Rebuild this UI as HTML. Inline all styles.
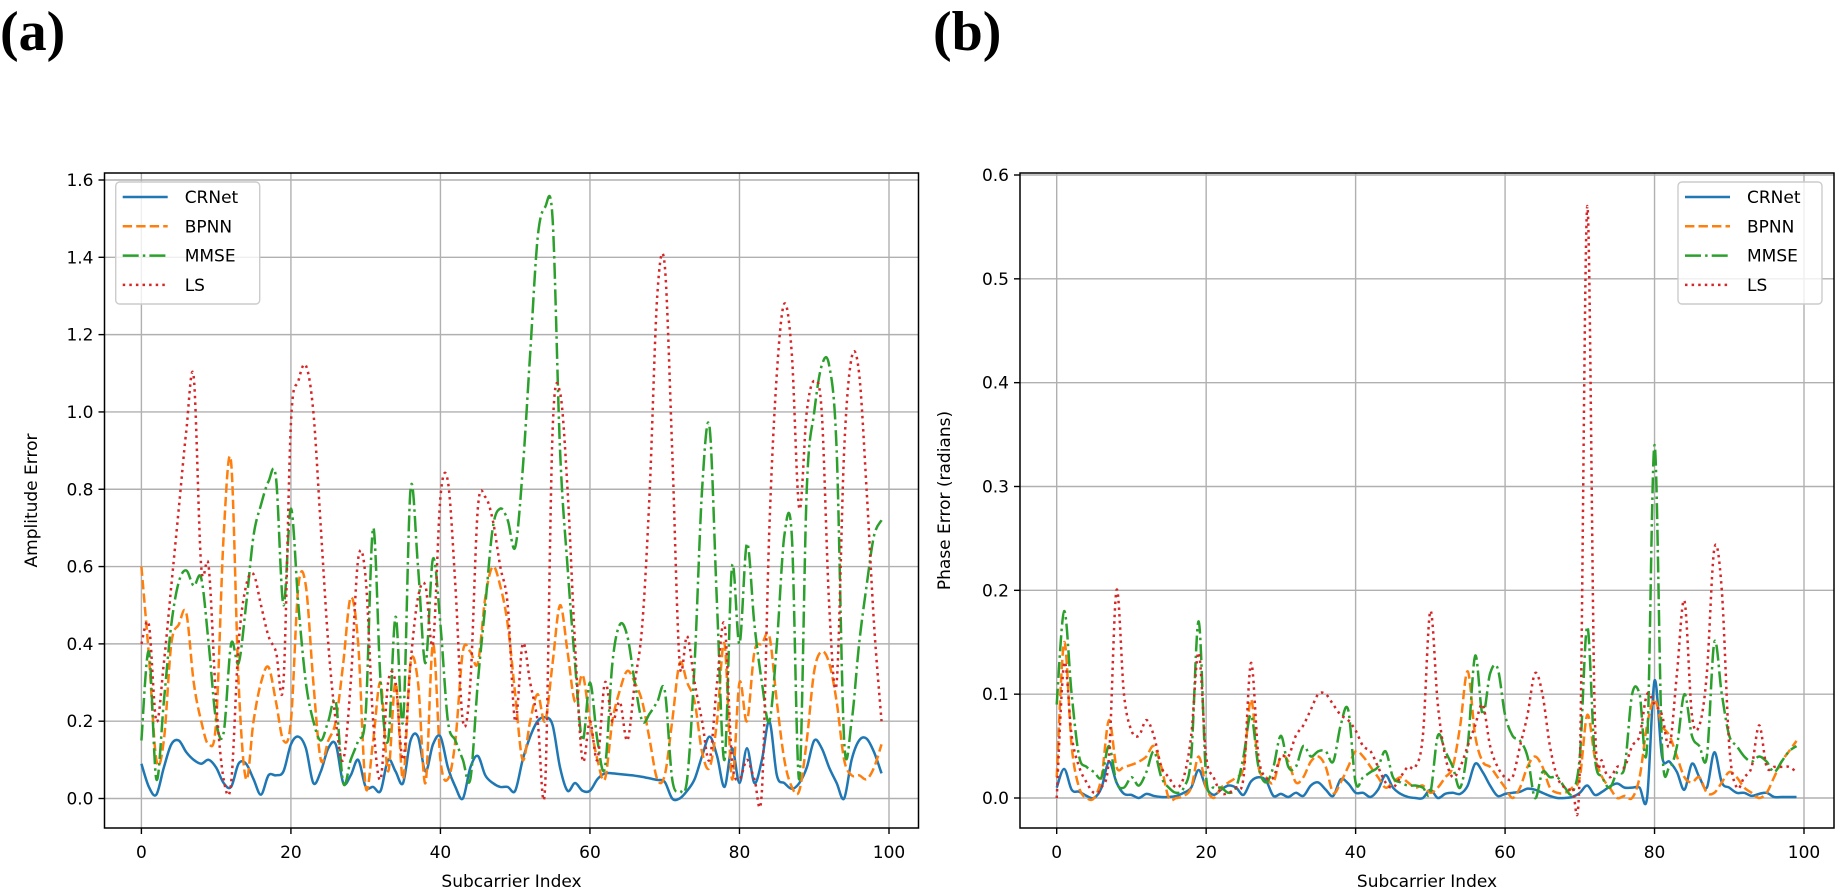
<!DOCTYPE html>
<html><head><meta charset="utf-8"><style>
html,body{margin:0;padding:0;background:#fff;}
svg{display:block;font-family:"DejaVu Sans","Liberation Sans",sans-serif;}
</style></head><body>
<svg id="fig" width="1840" height="893" viewBox="0 0 1840 893" xmlns="http://www.w3.org/2000/svg">
<text x="0" y="50" font-family="Liberation Serif, serif" font-weight="bold" font-size="56">(a)</text>
<text x="933" y="50" font-family="Liberation Serif, serif" font-weight="bold" font-size="56">(b)</text>
</svg>
<script>
const xTicks=[0,20,40,60,80,100];
const ampTicks=[0.0,0.2,0.4,0.6,0.8,1.0,1.2,1.4,1.6];
const phaseTicks=[0.0,0.1,0.2,0.3,0.4,0.5,0.6];
const seriesNames=["CRNet","BPNN","MMSE","LS"];
const ampCRNet=[0.09,0.03,0.01,0.08,0.14,0.15,0.12,0.10,0.09,0.10,0.08,0.04,0.03,0.09,0.09,0.05,0.01,0.06,0.06,0.07,0.14,0.16,0.13,0.04,0.07,0.13,0.14,0.04,0.06,0.10,0.03,0.03,0.02,0.10,0.07,0.04,0.15,0.16,0.07,0.14,0.16,0.08,0.03,0.00,0.08,0.11,0.06,0.04,0.03,0.03,0.02,0.10,0.16,0.20,0.21,0.19,0.08,0.02,0.04,0.02,0.02,0.05,0.065,0.065,0.063,0.061,0.059,0.056,0.052,0.048,0.043,0.00,0.00,0.02,0.05,0.11,0.16,0.11,0.03,0.13,0.04,0.13,0.04,0.10,0.20,0.06,0.04,0.025,0.04,0.08,0.15,0.13,0.08,0.04,0.00,0.10,0.15,0.155,0.12,0.065];
const ampBPNN=[0.6,0.37,0.1,0.15,0.40,0.45,0.48,0.3,0.2,0.14,0.2,0.68,0.87,0.3,0.05,0.2,0.3,0.34,0.25,0.15,0.2,0.55,0.55,0.3,0.1,0.15,0.2,0.35,0.52,0.4,0.03,0.15,0.3,0.07,0.3,0.05,0.35,0.3,0.04,0.4,0.1,0.05,0.15,0.38,0.38,0.35,0.52,0.6,0.55,0.45,0.27,0.1,0.2,0.27,0.2,0.35,0.5,0.38,0.25,0.32,0.2,0.1,0.05,0.2,0.28,0.33,0.3,0.25,0.15,0.05,0.06,0.2,0.35,0.3,0.25,0.12,0.08,0.2,0.4,0.05,0.3,0.2,0.38,0.4,0.42,0.25,0.1,0.03,0.02,0.15,0.33,0.38,0.35,0.25,0.1,0.06,0.06,0.05,0.08,0.14];
const ampMMSE=[0.15,0.38,0.05,0.25,0.45,0.56,0.59,0.55,0.57,0.4,0.2,0.17,0.4,0.35,0.5,0.68,0.76,0.82,0.83,0.5,0.75,0.5,0.3,0.2,0.15,0.2,0.25,0.04,0.1,0.15,0.22,0.70,0.3,0.15,0.47,0.2,0.8,0.6,0.35,0.62,0.45,0.2,0.15,0.1,0.05,0.3,0.5,0.7,0.75,0.72,0.65,0.85,1.15,1.45,1.53,1.5,0.9,0.6,0.35,0.15,0.3,0.15,0.08,0.35,0.45,0.42,0.3,0.2,0.22,0.25,0.28,0.05,0.02,0.05,0.35,0.8,0.96,0.5,0.1,0.6,0.4,0.66,0.45,0.3,0.2,0.4,0.68,0.68,0.05,0.8,1.0,1.12,1.12,0.9,0.15,0.2,0.4,0.55,0.68,0.72];
const ampLS=[0.4,0.45,0.2,0.35,0.55,0.75,0.95,1.09,0.6,0.6,0.25,0.05,0.04,0.4,0.55,0.58,0.5,0.42,0.38,0.3,0.97,1.08,1.12,1.0,0.7,0.4,0.2,0.1,0.3,0.62,0.57,0.2,0.05,0.3,0.3,0.1,0.35,0.52,0.55,0.4,0.78,0.82,0.55,0.2,0.3,0.75,0.78,0.72,0.6,0.5,0.2,0.4,0.3,0.2,0.03,0.95,1.05,0.8,0.4,0.1,0.2,0.1,0.3,0.2,0.25,0.15,0.3,0.45,0.8,1.3,1.38,0.9,0.35,0.42,0.3,0.2,0.1,0.3,0.45,0.1,0.05,0.1,0.05,0.02,0.7,1.1,1.28,1.15,0.75,1.0,1.08,1.0,0.5,0.3,0.9,1.14,1.1,0.8,0.45,0.2];
const phCRNet=[0.01,0.028,0.008,0.006,0.002,0.0,0.01,0.035,0.015,0.004,0.003,0.0,0.004,0.002,0.001,0.001,0.002,0.005,0.01,0.027,0.01,0.003,0.008,0.012,0.01,0.003,0.016,0.02,0.017,0.002,0.004,0.001,0.005,0.002,0.012,0.015,0.008,0.002,0.018,0.014,0.005,0.005,0.001,0.008,0.022,0.01,0.004,0.001,0.0,0.0,0.008,0.0,0.004,0.005,0.004,0.012,0.033,0.025,0.012,0.002,0.004,0.005,0.006,0.009,0.008,0.005,0.002,0.0,0.0,0.001,0.005,0.012,0.003,0.006,0.011,0.014,0.01,0.01,0.01,0.0,0.113,0.04,0.035,0.025,0.008,0.033,0.02,0.01,0.044,0.015,0.01,0.005,0.005,0.002,0.004,0.005,0.001,0.001,0.001,0.001];
const phBPNN=[0.02,0.15,0.05,0.01,0.0,0.0,0.02,0.075,0.03,0.03,0.032,0.035,0.04,0.05,0.03,0.0,0.0,0.002,0.01,0.04,0.01,0.0,0.01,0.015,0.02,0.03,0.095,0.03,0.02,0.015,0.04,0.035,0.015,0.02,0.035,0.04,0.03,0.005,0.015,0.03,0.045,0.04,0.03,0.02,0.01,0.015,0.02,0.015,0.01,0.012,0.005,0.01,0.02,0.03,0.07,0.122,0.06,0.035,0.03,0.02,0.01,0.0,0.01,0.03,0.04,0.03,0.01,0.005,0.005,0.01,0.02,0.08,0.04,0.02,0.01,0.0,0.002,0.0,0.02,0.07,0.095,0.07,0.06,0.04,0.02,0.015,0.02,0.005,0.005,0.015,0.025,0.02,0.01,0.005,0.0,0.005,0.02,0.035,0.045,0.055];
const phMMSE=[0.09,0.18,0.1,0.04,0.03,0.025,0.02,0.05,0.015,0.01,0.02,0.012,0.025,0.045,0.02,0.01,0.005,0.01,0.04,0.17,0.02,0.01,0.01,0.005,0.01,0.04,0.08,0.03,0.015,0.03,0.06,0.03,0.03,0.05,0.04,0.045,0.045,0.035,0.07,0.085,0.015,0.02,0.025,0.03,0.045,0.02,0.015,0.012,0.012,0.01,0.005,0.06,0.045,0.03,0.01,0.05,0.137,0.08,0.12,0.125,0.08,0.06,0.055,0.04,0.0,0.025,0.02,0.02,0.01,0.005,0.04,0.165,0.04,0.02,0.01,0.025,0.03,0.1,0.1,0.05,0.34,0.05,0.03,0.05,0.1,0.06,0.05,0.04,0.15,0.1,0.06,0.05,0.04,0.035,0.04,0.035,0.025,0.035,0.045,0.05];
const phLS=[0.0,0.13,0.06,0.03,0.015,0.005,0.01,0.04,0.2,0.1,0.065,0.06,0.075,0.06,0.03,0.02,0.01,0.02,0.06,0.14,0.04,0.02,0.005,0.005,0.01,0.02,0.13,0.04,0.02,0.02,0.04,0.04,0.06,0.07,0.085,0.1,0.1,0.09,0.08,0.075,0.065,0.05,0.045,0.03,0.015,0.01,0.02,0.03,0.03,0.06,0.18,0.09,0.04,0.02,0.03,0.05,0.07,0.09,0.05,0.03,0.02,0.02,0.05,0.08,0.12,0.1,0.05,0.02,0.01,0.01,0.03,0.57,0.08,0.035,0.02,0.03,0.03,0.05,0.06,0.1,0.09,0.08,0.05,0.12,0.19,0.08,0.07,0.12,0.24,0.2,0.05,0.01,0.02,0.03,0.07,0.03,0.03,0.03,0.03,0.025];

const NS="http://www.w3.org/2000/svg";
const svg=document.getElementById('fig');
const colors=["#1f77b4","#ff7f0e","#2ca02c","#d62728"];
const dashes=["","9.4,4.1","16,4.1,2.5,4.1","2.5,4.1"];
function mk(tag,attrs,parent){const e=document.createElementNS(NS,tag);for(const k in attrs)e.setAttribute(k,attrs[k]);(parent||svg).appendChild(e);return e;}
function smoothPath(pts){let d="M"+pts[0][0].toFixed(2)+","+pts[0][1].toFixed(2);
 for(let i=0;i<pts.length-1;i++){const p0=pts[Math.max(0,i-1)],p1=pts[i],p2=pts[i+1],p3=pts[Math.min(pts.length-1,i+2)];
  const c1=[p1[0]+(p2[0]-p0[0])/6,p1[1]+(p2[1]-p0[1])/6],c2=[p2[0]-(p3[0]-p1[0])/6,p2[1]-(p3[1]-p1[1])/6];
  d+=" C"+c1[0].toFixed(2)+","+c1[1].toFixed(2)+" "+c2[0].toFixed(2)+","+c2[1].toFixed(2)+" "+p2[0].toFixed(2)+","+p2[1].toFixed(2);}
 return d;}
function chart(o){
 const g=mk('g',{});
 
 
 const sx=v=>o.x0+(o.x100-o.x0)*v/100;
 const sy=v=>o.y0-(o.y0-o.yTop)*v/o.vTop;
 const clipId=o.name+"-clip";
 const cp=mk('clipPath',{id:clipId},g);mk('rect',{x:o.L,y:o.T,width:o.R-o.L,height:o.B-o.T},cp);
 xTicks.forEach(t=>{const x=sx(t);
  const gl=mk('line',{x1:x,x2:x,y1:o.T,y2:o.B,stroke:"#b0b0b0","stroke-width":1.4},g);
  
  
  mk('line',{x1:x,x2:x,y1:o.B,y2:o.B+6,stroke:"#000","stroke-width":1.4},g);
  const tx=mk('text',{x:x,y:o.B+30,"text-anchor":"middle","font-size":17},g);tx.textContent=t;
  
  });
 o.ticks.forEach(t=>{const y=sy(t);
  const gl=mk('line',{x1:o.L,x2:o.R,y1:y,y2:y,stroke:"#b0b0b0","stroke-width":1.4},g);
  
  
  mk('line',{x1:o.L-6,x2:o.L,y1:y,y2:y,stroke:"#000","stroke-width":1.4},g);
  const tx=mk('text',{x:o.L-11,y:y+6,"text-anchor":"end","font-size":17},g);tx.textContent=t.toFixed(1);
  
  });
 const lg=mk('g',{"clip-path":"url(#"+clipId+")"},g);
 o.series.forEach((s,k)=>{const pts=s.map((v,i)=>[sx(i),sy(v)]);
  const p=mk('path',{d:smoothPath(pts),fill:"none",stroke:colors[k],"stroke-width":2.5,"stroke-dasharray":dashes[k],"stroke-linejoin":"round"},lg);
  
  });
 mk('rect',{x:o.L,y:o.T,width:o.R-o.L,height:o.B-o.T,fill:"none",stroke:"#000","stroke-width":1.5},g);
 const xl=mk('text',{x:(o.L+o.R)/2,y:887,"text-anchor":"middle","font-size":17},g);xl.textContent="Subcarrier Index";
 
 
 const yl=mk('text',{x:0,y:0,"text-anchor":"middle","font-size":17,transform:"translate("+o.ylx+","+((o.T+o.B)/2)+") rotate(-90)"},g);yl.textContent=o.ylabel;
 
 
 const leg=mk('g',{},g);
 
 
 mk('rect',{x:o.lx,y:182,width:144,height:122,rx:4,fill:"#fff","fill-opacity":0.8,stroke:"#cccccc","stroke-width":1.4},leg);
 seriesNames.forEach((n,k)=>{const y=197+29.3*k;
  const e=mk('g',{},leg);
  
  
  mk('line',{x1:o.lx+7,x2:o.lx+52,y1:y,y2:y,stroke:colors[k],"stroke-width":2.5,"stroke-dasharray":dashes[k]},e);
  const t=mk('text',{x:o.lx+69,y:y+6,"font-size":17},e);t.textContent=n;});
}
chart({name:"amplitude-chart",L:104.5,R:918.5,T:173,B:828,x0:141.4,x100:889,y0:798.5,yTop:180,vTop:1.6,ticks:ampTicks,
 series:[ampCRNet,ampBPNN,ampMMSE,ampLS],ylabel:"Amplitude Error",ylx:37,lx:115.7});
chart({name:"phase-chart",L:1020,R:1834,T:173,B:828,x0:1056.7,x100:1804,y0:798,yTop:175,vTop:0.6,ticks:phaseTicks,
 series:[phCRNet,phBPNN,phMMSE,phLS],ylabel:"Phase Error (radians)",ylx:950,lx:1678});
</script>
</body></html>
